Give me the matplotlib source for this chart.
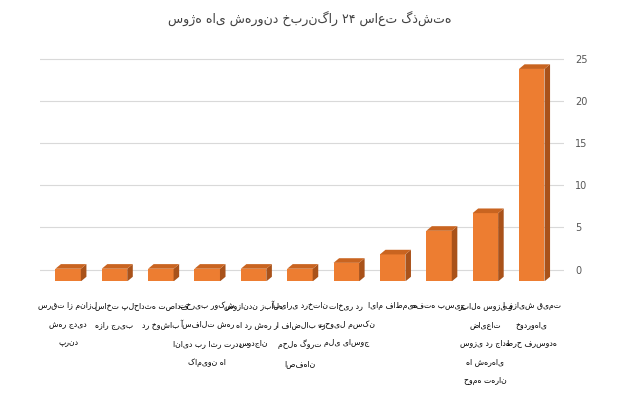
import matplotlib
matplotlib.use("Agg")
import matplotlib.pyplot as plt
from matplotlib.patches import Polygon

plt.rcParams['font.family'] = ['DejaVu Sans']

title = "سوژه های شهروند خبرنگار ۲۴ ساعت گذشته"
categories = [
    "سرقت از منازل\nشهر جدید\nپرند",
    "ساخت پل\nهزار جریب",
    "حادثه تصادف\nدر خوشاب",
    "تخریب روکش\nآسفالت شهر\nاناید بر اثر تردد\nکامیون ها",
    "سوزاندن زباله\nها در شهر\nسودجان",
    "آبیاری درختان\nرا فاضلاب در\nمحله گورت\nاصفهان",
    "تاخیر در\nتحویل مسکن\nملی یاسوج",
    "ایام فاطمیه",
    "هفته بسیج",
    "زباله سوزی و\nضایعات\nسوزی در جاده\nها شهرهای\nحومه تهران",
    "افزایش قیمت\nخودروهای\nطرح فرسوده",
]
values = [0.1, 0.1, 0.1, 0.1, 0.1, 0.1, 0.8, 1.8, 4.6, 6.7, 23.8]
yticks = [0, 5, 10, 15, 20, 25]

floor = -1.4
fig = plt.figure(figsize=(6.2, 4.2), dpi=100)
ax = fig.add_axes([0.065, 0.33, 0.845, 0.55])
ax.set_ylim(floor, 26)
ax.set_xlim(-0.6, len(values) - 0.3)
for t in yticks:
    ax.axhline(t, color='#d9d9d9', lw=0.8, zorder=0)

w = 0.55
dx, dy = 0.12, 0.55
front = '#ed7d31'
side = '#a9521a'
top = '#c96420'
for i, v in enumerate(values):
    x0 = i - w / 2
    ax.add_patch(Polygon([(x0, floor), (x0 + w, floor), (x0 + w, v), (x0, v)],
                         closed=True, fc=front, ec='none', zorder=3))
    ax.add_patch(Polygon([(x0 + w, floor), (x0 + w + dx, floor + dy), (x0 + w + dx, v + dy), (x0 + w, v)],
                         closed=True, fc=side, ec='none', zorder=3))
    ax.add_patch(Polygon([(x0, v), (x0 + w, v), (x0 + w + dx, v + dy), (x0 + dx, v + dy)],
                         closed=True, fc=top, ec='none', zorder=3))

ax.yaxis.tick_right()
ax.set_yticks(yticks)
ax.tick_params(axis='y', length=0, labelsize=7, colors='#555555', pad=8)
ax.set_xticks(range(len(values)))
ax.set_xticklabels(categories, fontsize=5.6, linespacing=2.4, va='top')
ax.tick_params(axis='x', length=0, pad=14)
for s in ax.spines.values():
    s.set_visible(False)
fig.text(0.5, 0.955, title, ha='center', va='center', fontsize=9, color='#404040')
fig.savefig('out.png', dpi=100)
